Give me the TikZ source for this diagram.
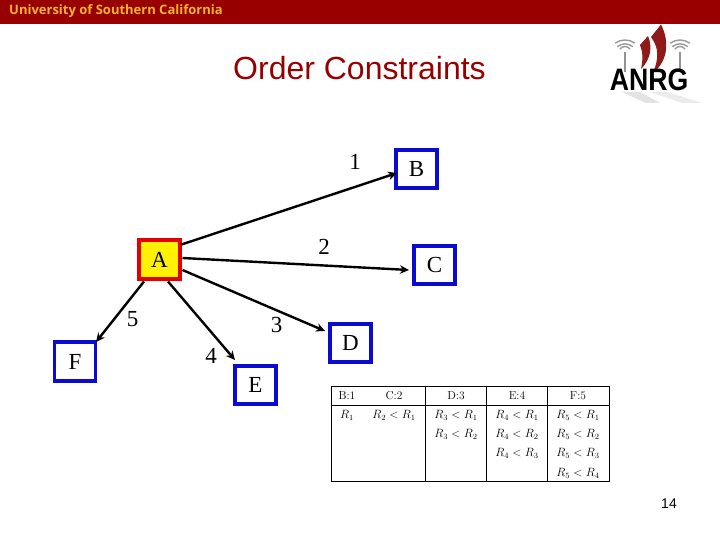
\documentclass[tikz,border=0pt]{standalone}
\usepackage{fontspec}
\usetikzlibrary{arrows.meta}
\newfontfamily\sansf{Liberation Sans}
\newfontfamily\seriff{Liberation Serif}
\newfontfamily\headf{Open Sans}
\definecolor{barred}{HTML}{980000}
\definecolor{bargold}{HTML}{F5B335}
\definecolor{boxblue}{HTML}{0A0AD0}
\definecolor{swoosh}{HTML}{8E1A1A}
\tikzset{
  box/.style={draw=boxblue,line width=3.6pt,fill=white,minimum width=41pt,minimum height=38.5pt,inner sep=0pt,font=\seriff\fontsize{23}{23}\selectfont},
  rootbox/.style={box,draw=red!90!black,fill=yellow},
  conn/.style={draw=black,line width=2.4pt,-{Stealth[length=9pt,width=8.5pt]}},
  num/.style={inner sep=0pt,font=\seriff\fontsize{23}{23}\selectfont},
  cell/.style={inner sep=0pt,font=\fontsize{11.5}{12}\selectfont},
  wave/.style={draw=gray!80,line width=1.4pt,line cap=round},
  mast/.style={draw=gray!85,line width=1.6pt},
  tabline/.style={draw=black,line width=1pt}
}
\begin{document}
\begin{tikzpicture}[x=1pt,y=-1pt]
\useasboundingbox (0,0) rectangle (720,540);
\fill[white] (0,0) rectangle (720,540);
\fill[barred] (0,0) rectangle (720,24.5);
\node[anchor=west,inner sep=0pt,text=bargold,font=\headf\bfseries\fontsize{13}{14}\selectfont] (uni) at (9,11) {University of Southern California};
\node[inner sep=0pt,font=\sansf\fontsize{32}{32}\selectfont,text=barred] (title) at (359.5,68) {Order Constraints};

% logo
\fill[gray!22] (622,92) -- (640,92) -- (660,103) -- (646,103) -- cycle;
\fill[gray!16] (650,92) -- (668,92) -- (702,103) -- (682,103) -- cycle;
\draw[mast] (625,52) -- (625,72);
\draw[mast] (680,52) -- (680,72);
\foreach \c in {625,680}{
  \draw[wave] (\c-5,49) arc[start angle=215,end angle=325,x radius=6,y radius=6] ;
  \draw[wave] (\c-7.5,46.5) .. controls (\c-3,43) and (\c+3,43) .. (\c+7.5,46.5);
  \draw[wave] (\c-9.5,43) .. controls (\c-4,39) and (\c+4,39) .. (\c+9.5,43);
}
\fill[swoosh] (661,24.5) .. controls (669,40) and (669,60) .. (653,73) .. controls (659,58) and (659,48) .. (651,37) -- cycle;
\fill[swoosh] (648,36) .. controls (652,45) and (652,58) .. (641,69) .. controls (643,60) and (643,52) .. (640,45) -- cycle;
\node[inner sep=0pt,font=\sansf\bfseries\fontsize{31}{31}\selectfont,xscale=0.86] (logo) at (649,80) {ANRG};

% nodes
\node[rootbox] (A) at (159.5,259.5) {A};
\node[box] (B) at (416.5,169) {B};
\node[box] (C) at (434.5,265) {C};
\node[box] (D) at (350.5,343) {D};
\node[box] (E) at (255.5,385) {E};
\node[box] (F) at (75,361.5) {F};

% connector ends
\coordinate (sb) at (181.5,244.5);
\coordinate (sc) at (182.5,258);
\coordinate (sd) at (182.5,270);
\coordinate (se) at (168,281.5);
\coordinate (sf) at (144,281.5);
\coordinate (eb) at (397,173);
\coordinate (ec) at (409,270);
\coordinate (ed) at (325,331);
\coordinate (ee) at (235,360);
\coordinate (ef) at (96,342);
\draw[conn] (sb) -- (eb);
\draw[conn] (sc) -- (ec);
\draw[conn] (sd) -- (ed);
\draw[conn] (se) -- (ee);
\draw[conn] (sf) -- (ef);

\node[num] (n1) at (355,162) {1};
\node[num] (n2) at (324,247) {2};
\node[num] (n3) at (276.5,325) {3};
\node[num] (n4) at (211,356) {4};
\node[num] (n5) at (132.5,319) {5};

% table
\draw[tabline] (331.7,386.7) rectangle (609.5,481.7);
\draw[tabline] (331.7,405) -- (609.5,405);
\draw[tabline] (425.3,386.7) -- (425.3,481.7);
\draw[tabline] (486.7,386.7) -- (486.7,481.7);
\draw[tabline] (547.7,386.7) -- (547.7,481.7);
\node[cell] (hb) at (347,396) {B:1};
\node[cell] (hc) at (394,396) {C:2};
\node[cell] (hd) at (456,396) {D:3};
\node[cell] (he) at (517,396) {E:4};
\node[cell] (hf) at (578,396) {F:5};
\node[cell] (r1) at (347,415) {$R_1$};
\node[cell] (r2) at (394,415) {$R_2<R_1$};
\node[cell] (d1) at (456,415) {$R_3<R_1$};
\node[cell] (d2) at (456,434) {$R_3<R_2$};
\node[cell] (e1) at (517,415) {$R_4<R_1$};
\node[cell] (e2) at (517,434) {$R_4<R_2$};
\node[cell] (e3) at (517,453) {$R_4<R_3$};
\node[cell] (f1) at (578,415) {$R_5<R_1$};
\node[cell] (f2) at (578,434) {$R_5<R_2$};
\node[cell] (f3) at (578,453) {$R_5<R_3$};
\node[cell] (f4) at (578,473) {$R_5<R_4$};

\node[inner sep=0pt,font=\sansf\fontsize{14}{14}\selectfont] (pg) at (669,504) {14};
\end{tikzpicture}
\end{document}
